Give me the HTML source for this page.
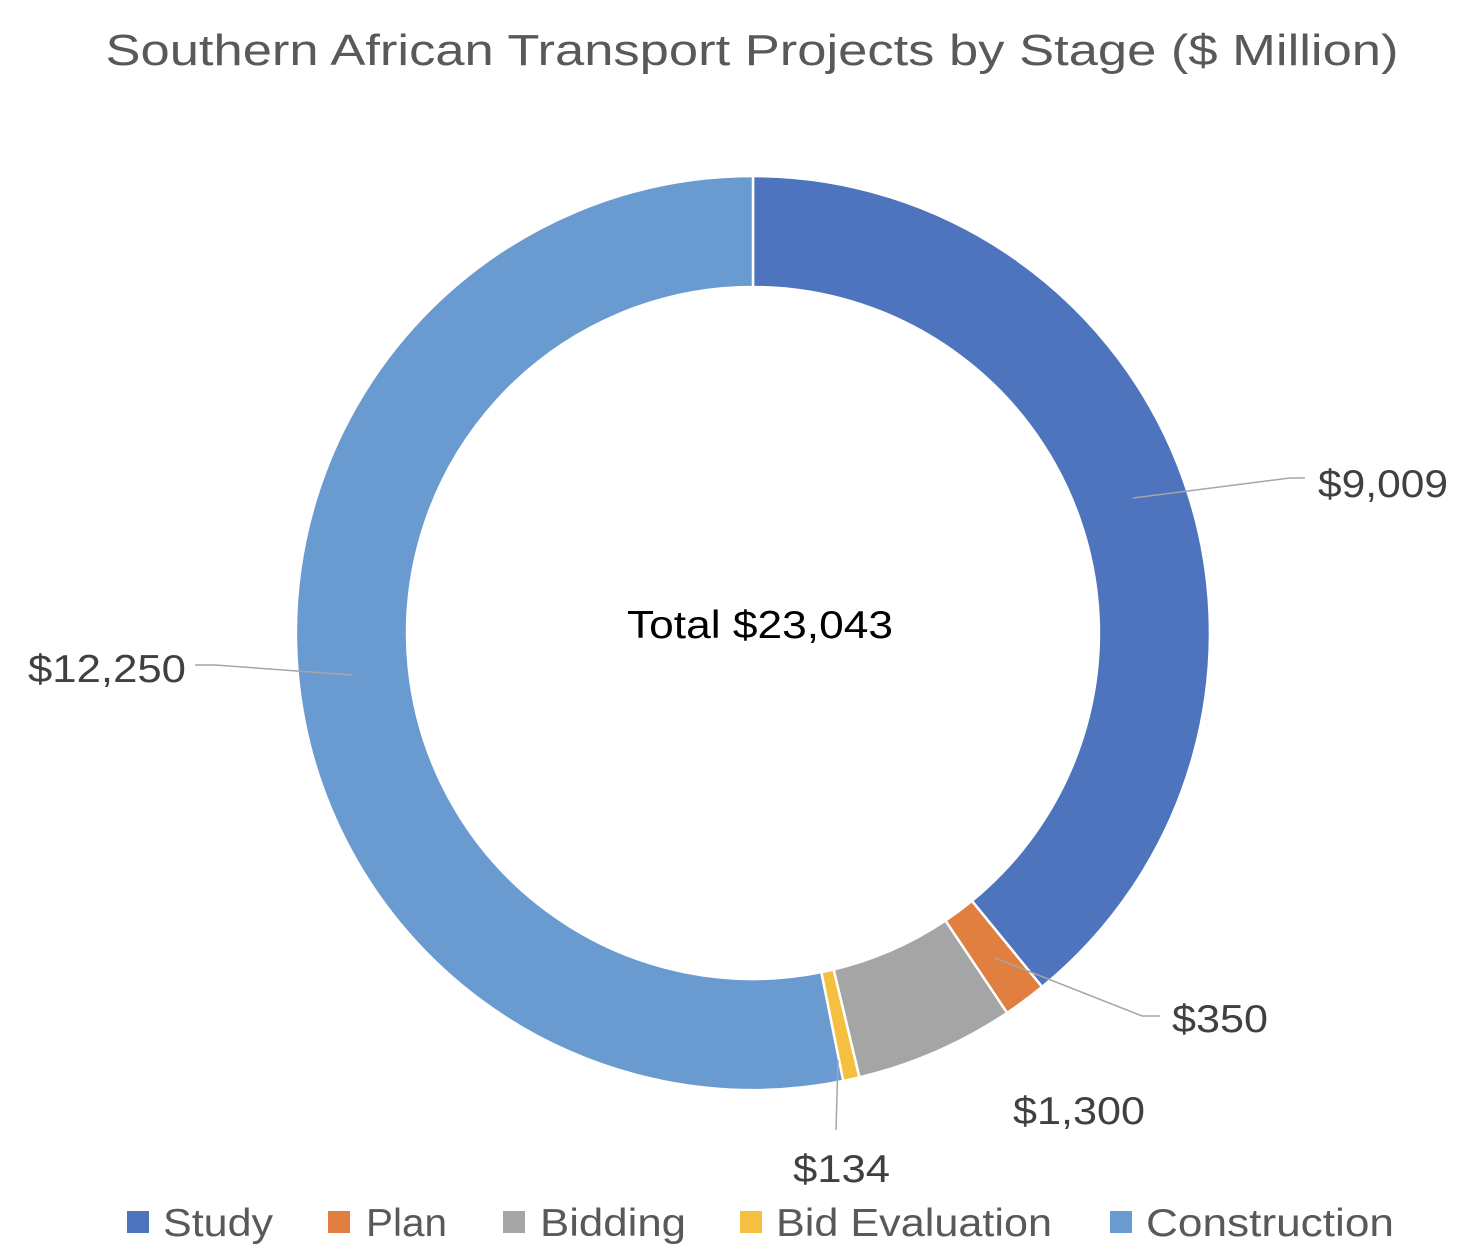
<!DOCTYPE html>
<html><head><meta charset="utf-8"><style>
html,body{margin:0;padding:0;background:#fff;}
svg{display:block;font-family:"Liberation Sans",sans-serif;}
</style></head><body>
<svg width="1474" height="1260" viewBox="0 0 1474 1260" xmlns="http://www.w3.org/2000/svg">
<text x="752" y="65" text-anchor="middle" font-size="44" fill="#595959" textLength="1293" lengthAdjust="spacingAndGlyphs">Southern African Transport Projects by Stage ($ Million)</text>
<g stroke="#fff" stroke-width="2.5">
<path d="M753,176 A457,457 0 0 1 1042.1,986.9 L971.9,900.9 A346,346 0 0 0 753,287 Z" fill="#4e74be"/>
<path d="M1042.1,986.9 A457,457 0 0 1 1007.1,1012.9 L945.4,920.6 A346,346 0 0 0 971.9,900.9 Z" fill="#e07f3f"/>
<path d="M1007.1,1012.9 A457,457 0 0 1 859.4,1077.4 L833.6,969.5 A346,346 0 0 0 945.4,920.6 Z" fill="#a5a5a5"/>
<path d="M859.4,1077.4 A457,457 0 0 1 843.2,1081.0 L821.3,972.2 A346,346 0 0 0 833.6,969.5 Z" fill="#f5bf3f"/>
<path d="M843.2,1081.0 A457,457 0 1 1 753,176 L753,287 A346,346 0 1 0 821.3,972.2 Z" fill="#6a9bd0"/>
</g>
<g stroke="#a6a6a6" stroke-width="1.5" fill="none">
<polyline points="1133,498 1290,478 1305,478"/>
<polyline points="352,675 215,665 195,665"/>
<polyline points="995,958 1142,1016 1160,1016"/>
<polyline points="838,1060 836,1130"/>
</g>
<g font-size="39" fill="#404040">
<text x="1318" y="497" textLength="130" lengthAdjust="spacingAndGlyphs">$9,009</text>
<text x="28" y="682" textLength="158" lengthAdjust="spacingAndGlyphs">$12,250</text>
<text x="1172" y="1032" textLength="96" lengthAdjust="spacingAndGlyphs">$350</text>
<text x="1013" y="1124" textLength="132" lengthAdjust="spacingAndGlyphs">$1,300</text>
<text x="793" y="1182" textLength="97" lengthAdjust="spacingAndGlyphs">$134</text>
</g>
<text x="760" y="638" text-anchor="middle" font-size="39" fill="#000" textLength="266" lengthAdjust="spacingAndGlyphs">Total $23,043</text>
<g font-size="39" fill="#595959">
<rect x="127" y="1211" width="22" height="22" fill="#4e74be"/>
<text x="163" y="1236" textLength="110" lengthAdjust="spacingAndGlyphs">Study</text>
<rect x="328" y="1211" width="22" height="22" fill="#e07f3f"/>
<text x="366" y="1236" textLength="81" lengthAdjust="spacingAndGlyphs">Plan</text>
<rect x="503" y="1211" width="22" height="22" fill="#a5a5a5"/>
<text x="540" y="1236" textLength="146" lengthAdjust="spacingAndGlyphs">Bidding</text>
<rect x="740" y="1211" width="22" height="22" fill="#f5bf3f"/>
<text x="776" y="1236" textLength="276" lengthAdjust="spacingAndGlyphs">Bid Evaluation</text>
<rect x="1110" y="1211" width="22" height="22" fill="#6a9bd0"/>
<text x="1146" y="1236" textLength="248" lengthAdjust="spacingAndGlyphs">Construction</text>
</g>
</svg>
</body></html>
